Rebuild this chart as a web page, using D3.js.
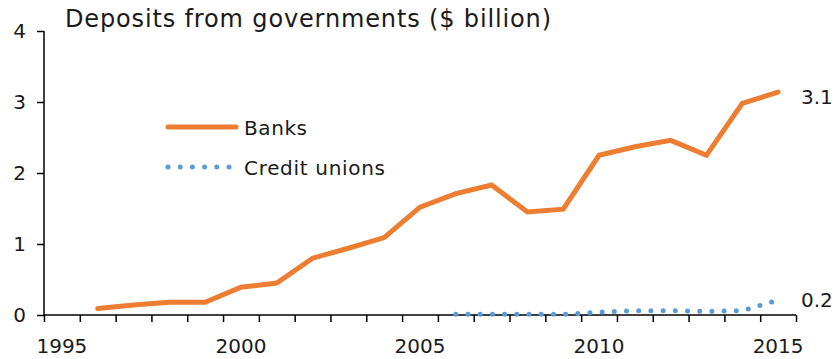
<!DOCTYPE html>
<html>
<head>
<meta charset="utf-8">
<script src="https://cdn.jsdelivr.net/npm/d3@7"></script>
<style>
  html, body { margin: 0; padding: 0; background: #fff; }
  svg text { font-family: "DejaVu Sans", Verdana, sans-serif; fill: #1a1a1a; }
</style>
</head>
<body>
<svg id="chart" width="835" height="359"></svg>
<script>
// ── Data ──────────────────────────────────────────────
const bankYears   = [1996, 1997, 1998, 1999, 2000, 2001, 2002, 2003, 2004, 2005,
                     2006, 2007, 2008, 2009, 2010, 2011, 2012, 2013, 2014, 2015];
const banks       = [0.09, 0.14, 0.18, 0.18, 0.39, 0.45, 0.80, 0.94, 1.09, 1.52,
                     1.71, 1.83, 1.45, 1.49, 2.25, 2.37, 2.46, 2.25, 2.98, 3.14];
const cuYears     = [2006, 2007, 2008, 2009, 2010, 2011, 2012, 2013, 2014, 2015];
const creditUnions = [0.01, 0.01, 0.01, 0.01, 0.04, 0.06, 0.06, 0.05, 0.06, 0.21];
const yTicks      = [0, 1, 2, 3, 4];
const xLabels     = [1995, 2000, 2005, 2010, 2015];
const endLabels   = ['3.1', '0.2'];

const ORANGE = '#ED7D31';
const BLUE   = '#5B9BD5';
const FONT   = '"DejaVu Sans", Verdana, sans-serif';

// ── Scales ────────────────────────────────────────────
const svg = d3.select('#chart');
const x = d3.scaleLinear().domain([1995, 2016]).range([44, 796]);
const y = d3.scaleLinear().domain([0, 4]).range([315, 31]);

// ── Axes ─────────────────────────────────────────────
const yAxis = svg.append('g')
    .attr('transform', 'translate(44,0)')
    .call(d3.axisLeft(y).tickValues(yTicks).tickSize(7).tickPadding(11).tickFormat(d3.format('d')));
yAxis.select('.domain').attr('d', `M0,${y(4)}V${y(0)}`).attr('stroke', '#000').attr('stroke-width', 1.5);
yAxis.selectAll('.tick line').attr('stroke', '#000').attr('stroke-width', 1.5);
yAxis.selectAll('.tick text').attr('font-size', 20).attr('font-family', FONT).attr('fill', '#1a1a1a');

const xAxis = svg.append('g')
    .attr('transform', `translate(0,${y(0)})`)
    .call(d3.axisBottom(x).tickValues(d3.range(1995, 2017)).tickSize(7).tickFormat(''));
xAxis.select('.domain').attr('d', `M${x(1995)},0H${x(2016)}`).attr('stroke', '#000').attr('stroke-width', 1.5);
xAxis.selectAll('.tick line').attr('stroke', '#000').attr('stroke-width', 1.5);

// year labels centred in each year interval
svg.append('g').selectAll('text')
    .data(xLabels)
    .join('text')
    .attr('x', d => x(d + 0.5))
    .attr('y', 353)
    .attr('text-anchor', 'middle')
    .attr('font-size', 20)
    .text(d => d);

// ── Lines ─────────────────────────────────────────────
const line = d3.line()
    .x(d => x(d[0] + 0.5))
    .y(d => y(d[1]));

svg.append('path')
    .datum(bankYears.map((yr, i) => [yr, banks[i]]))
    .attr('fill', 'none')
    .attr('stroke', ORANGE)
    .attr('stroke-width', 5)
    .attr('stroke-linejoin', 'miter')
    .attr('stroke-linecap', 'round')
    .attr('d', line);

svg.append('path')
    .datum(cuYears.map((yr, i) => [yr, creditUnions[i]]))
    .attr('fill', 'none')
    .attr('stroke', BLUE)
    .attr('stroke-width', 5)
    .attr('stroke-linecap', 'round')
    .attr('stroke-dasharray', '0 12.2')
    .attr('d', line);

// end-of-series labels
svg.append('text').attr('x', 801).attr('y', 104).attr('font-size', 20).text(endLabels[0]);
svg.append('text').attr('x', 801).attr('y', 307).attr('font-size', 20).text(endLabels[1]);

// ── Title ─────────────────────────────────────────────
svg.append('text')
    .attr('x', 65)
    .attr('y', 27)
    .attr('font-size', 24)
    .attr('textLength', 486)
    .attr('lengthAdjust', 'spacing')
    .text('Deposits from governments ($ billion)');

// ── Legend ────────────────────────────────────────────
const legend = [
    { name: 'Banks', color: ORANGE, dash: null, ly: 127, tl: 63 },
    { name: 'Credit unions', color: BLUE, dash: '0 12.2', ly: 167, tl: 141 }
];
const lg = svg.append('g').selectAll('g').data(legend).join('g');
lg.append('line')
    .attr('x1', 168).attr('x2', 236)
    .attr('y1', d => d.ly).attr('y2', d => d.ly)
    .attr('stroke', d => d.color)
    .attr('stroke-width', 5)
    .attr('stroke-linecap', 'round')
    .attr('stroke-dasharray', d => d.dash);
lg.append('text')
    .attr('x', 244)
    .attr('y', d => d.ly + 8)
    .attr('font-size', 20)
    .attr('textLength', d => d.tl)
    .attr('lengthAdjust', 'spacing')
    .text(d => d.name);
</script>
</body>
</html>
